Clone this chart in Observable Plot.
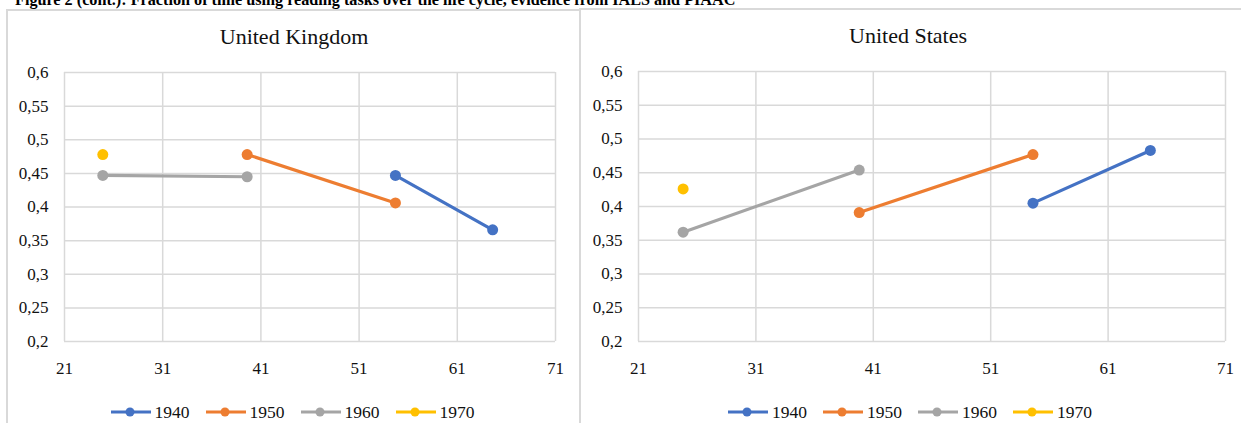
<!DOCTYPE html>
<html>
<head>
<meta charset="utf-8">
<script src="https://cdn.jsdelivr.net/npm/d3@7"></script>
<script src="https://cdn.jsdelivr.net/npm/@observablehq/plot@0.6"></script>
<style>
  html, body { margin: 0; padding: 0; background: #fff; }
  body { width: 1241px; height: 423px; position: relative; overflow: hidden; font-family: "Liberation Serif", Tinos, "Times New Roman", Times, serif; }
  .title { position: absolute; left: 15px; top: -9px; font-size: 16.2px; font-weight: bold; white-space: nowrap; color: #000; }
  .panel { position: absolute; border: 2px solid #d9d9d9; box-sizing: border-box; }
  .ptitle { position: absolute; font-size: 22px; color: #111; white-space: nowrap; transform: translateX(-50%); }
  .chart { position: absolute; top: 0; }
  .legend { position: absolute; display: flex; justify-content: center; align-items: center; height: 20px; }
  .item { display: flex; align-items: center; margin: 0 8px; font-size: 17.5px; color: #111; }
  .item svg { margin-right: 4px; }
</style>
</head>
<body>
<div class="title">Figure 2 (cont.): Fraction of time using reading tasks over the life cycle, evidence from IALS and PIAAC</div>
<div class="panel" style="left:6px; top:9px; width:575px; height:430px;"></div>
<div class="panel" style="left:579px; top:8px; width:680px; height:430px;"></div>
<div class="ptitle" style="left:294px; top:23.5px;">United Kingdom</div>
<div class="ptitle" style="left:908px; top:22.5px;">United States</div>
<div id="left" class="chart" style="left:6px;"></div>
<div id="right" class="chart" style="left:579px;"></div>
<div id="legL" class="legend" style="left:6px; width:573px; top:402px;"></div>
<div id="legR" class="legend" style="left:579px; width:662px; top:402px;"></div>
<script>
// ---- data ----
const cohorts = ["1940", "1950", "1960", "1970"];
const colors = ["#4472C4", "#ED7D31", "#A5A5A5", "#FFC000"];
const xTicks = [21, 31, 41, 51, 61, 71];
const yTicks = [0.2, 0.25, 0.3, 0.35, 0.4, 0.45, 0.5, 0.55, 0.6];

// United Kingdom: ages and values per cohort
const ukAge1940 = [54.7, 64.6], ukVal1940 = [0.447, 0.366];
const ukAge1950 = [39.6, 54.7], ukVal1950 = [0.478, 0.406];
const ukAge1960 = [24.9, 39.6], ukVal1960 = [0.447, 0.445];
const ukAge1970 = [24.9],       ukVal1970 = [0.478];

// United States
const usAge1940 = [54.6, 64.6], usVal1940 = [0.405, 0.483];
const usAge1950 = [39.8, 54.6], usVal1950 = [0.391, 0.477];
const usAge1960 = [24.8, 39.8], usVal1960 = [0.362, 0.454];
const usAge1970 = [24.8],       usVal1970 = [0.426];

function rows(ages, vals) {
  const out = [];
  ages.forEach((a, k) => a.forEach((x, i) => out.push({cohort: cohorts[k], age: x, value: vals[k][i]})));
  return out;
}
const ukRows = rows([ukAge1940, ukAge1950, ukAge1960, ukAge1970], [ukVal1940, ukVal1950, ukVal1960, ukVal1970]);
const usRows = rows([usAge1940, usAge1950, usAge1960, usAge1970], [usVal1940, usVal1950, usVal1960, usVal1970]);

const fmt = d => String(d).replace(".", ",");
const FONT = "'Liberation Serif', Tinos, 'Times New Roman', Times, serif";

function makePlot(data, width, mL, mR, mT) {
  return Plot.plot({
    width, height: 423,
    marginLeft: mL, marginRight: mR, marginTop: mT, marginBottom: 82,
    style: {fontFamily: FONT, fontSize: "17px", color: "#111", background: "transparent", overflow: "visible"},
    x: {domain: [21, 71]},
    y: {domain: [0.2, 0.6]},
    color: {domain: cohorts, range: colors},
    marks: [
      Plot.gridX(xTicks, {stroke: "#d9d9d9", strokeOpacity: 1, strokeWidth: 1.5}),
      Plot.gridY(yTicks, {stroke: "#d9d9d9", strokeOpacity: 1, strokeWidth: 1.5}),
      Plot.axisX(xTicks, {tickSize: 0, tickPadding: 20, tickFormat: d => String(d), label: null, fill: "#111", fontFamily: FONT}),
      Plot.axisY(yTicks, {tickSize: 0, tickPadding: 16, tickFormat: fmt, label: null, fill: "#111", fontFamily: FONT}),
      Plot.line(data, {x: "age", y: "value", z: "cohort", stroke: "cohort", strokeWidth: 3.2}),
      Plot.dot(data, {x: "age", y: "value", fill: "cohort", r: 5.5})
    ]
  });
}

document.getElementById("left").append(makePlot(ukRows, 574, 58, 25, 72));
document.getElementById("right").append(makePlot(usRows, 662, 59, 16, 71));

function legend(id) {
  const el = document.getElementById(id);
  cohorts.forEach((c, i) => {
    const item = document.createElement("div");
    item.className = "item";
    item.innerHTML = `<svg width="40" height="12"><line x1="0" y1="6" x2="40" y2="6" stroke="${colors[i]}" stroke-width="3.2"/><circle cx="19" cy="6" r="4.5" fill="${colors[i]}"/></svg><span>${c}</span>`;
    el.append(item);
  });
}
legend("legL");
legend("legR");
</script>
</body>
</html>
